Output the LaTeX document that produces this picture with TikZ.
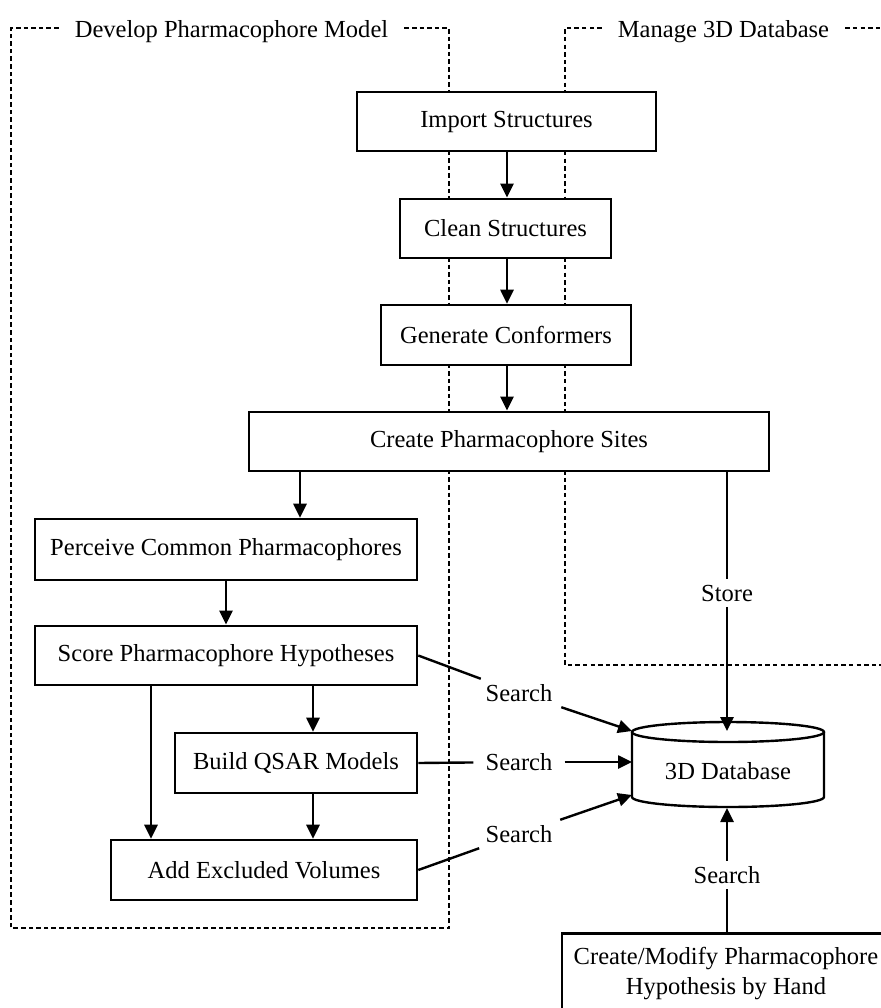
\documentclass[tikz,border=0pt]{standalone}
\usepackage{fontspec}
\setmainfont{Liberation Serif}
\usetikzlibrary{arrows.meta}
\begin{document}
\begin{tikzpicture}[x=0.75pt,y=-0.75pt,
  font=\fontsize{18.4}{22.5}\selectfont,
  box/.style={draw, line width=1.9pt, fill=white, inner sep=0pt, minimum height=44.5pt},
  arr/.style={line width=1.8pt, -{Triangle[length=10.5pt,width=9.8pt]}},
  ln/.style={line width=1.8pt},
  dsh/.style={line width=1.25pt, dash pattern=on 3.4pt off 2.3pt},
  lab/.style={inner xsep=9pt, inner ysep=4pt},
  ttl/.style={inner xsep=12pt, anchor=base}]
\clip (0,0) rectangle (881,1008);
\fill[white] (0,0) rectangle (881,1008);

% group frames
\node[ttl] (tl) at (231.5,37) {Develop Pharmacophore Model};
\node[ttl] (tr) at (723.5,37) {Manage 3D Database};
\draw[dsh] (tl.east |- 0,28) -- (449,28) -- (449,928) -- (11,928) -- (11,28) -- (tl.west |- 0,28);
\draw[dsh] (tr.east |- 0,28) -- (900,28);
\draw[dsh] (tr.west |- 0,28) -- (565,28) -- (565,665) -- (900,665);

% boxes
\node[box, minimum width=224.25pt] (imp) at (506.5,121.5) {Import Structures};
\node[box, minimum width=158.25pt] (cln) at (505.5,228.5) {Clean Structures};
\node[box, minimum width=187.5pt, minimum height=45pt] (gen) at (506,335) {Generate Conformers};
\node[box, minimum width=390pt] (sit) at (509,441.5) {Create Pharmacophore Sites};
\node[box, minimum width=286.5pt, minimum height=45.75pt] (per) at (226,549.5) {Perceive Common Pharmacophores};
\node[box, minimum width=286.5pt] (sco) at (226,655.5) {Score Pharmacophore Hypotheses};
\node[box, minimum width=181.5pt, minimum height=45pt] (qsr) at (296,763) {Build QSAR Models};
\node[box, minimum width=229.5pt, minimum height=45pt] (add) at (264,870) {Add Excluded Volumes};
\node[box, minimum width=246pt, minimum height=90pt, anchor=north] (cm) at (726,932) {};
\node[align=center, inner sep=0pt] (cmt) at (726,973) {Create/Modify Pharmacophore\\Hypothesis by Hand};

% database cylinder
\fill[white] (632,732) rectangle (824,797);
\fill[white] (728,797) ellipse[x radius=96, y radius=10];
\draw[ln] (632,732) -- (632,797) arc[start angle=180, end angle=0, x radius=96, y radius=10] -- (824,732);
\draw[ln] (728,732) ellipse[x radius=96, y radius=10];
\node (db) at (728,771) {3D Database};
\coordinate (dbtl) at (632,731);
\coordinate (dbl) at (632,762);
\coordinate (dbbl) at (632,795);
\coordinate (dbtop) at (727,731);
\coordinate (dbbot) at (727,808);

% labels
\node[lab] (s1) at (519,693) {Search};
\node[lab] (s2) at (519,762) {Search};
\node[lab] (s3) at (519,834) {Search};
\node[lab] (s4) at (727,875) {Search};
\node[lab] (st) at (727,593) {Store};

% main flow
\draw[arr] (imp.south -| 507,0) -- (cln.north -| 507,0);
\draw[arr] (cln.south -| 507,0) -- (gen.north -| 507,0);
\draw[arr] (gen.south -| 507,0) -- (sit.north -| 507,0);
\draw[arr] (sit.south -| 300,0) -- (per.north -| 300,0);
\draw[arr] (per.south) -- (sco.north);
\draw[arr] (sco.south -| 313,0) -- (qsr.north -| 313,0);
\draw[arr] (qsr.south -| 313,0) -- (add.north -| 313,0);
\draw[arr] (sco.south -| 151,0) -- (add.north -| 151,0);

% store
\draw[ln] (sit.south -| st) -- (st);
\draw[arr] (st) -- (dbtop);

% searches
\draw[ln] (sco.east) -- (s1);
\draw[arr] (s1) -- (dbtl);
\draw[ln] (qsr.east) -- (s2);
\draw[arr] (s2) -- (dbl);
\draw[ln] (add.east) -- (s3);
\draw[arr] (s3) -- (dbbl);
\draw[ln] (cm.north -| s4) -- (s4);
\draw[arr] (s4) -- (dbbot);
\end{tikzpicture}
\end{document}
